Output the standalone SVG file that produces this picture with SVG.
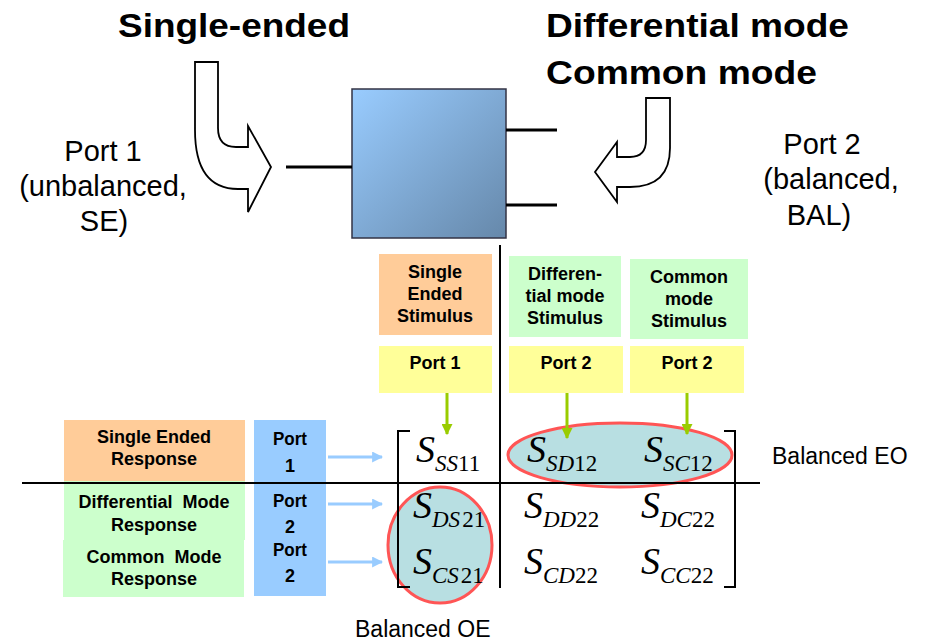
<svg xmlns="http://www.w3.org/2000/svg" width="945" height="644" viewBox="0 0 945 644">
<defs>
<linearGradient id="boxg" x1="0" y1="0" x2="1" y2="1">
<stop offset="0" stop-color="#99ccff"/>
<stop offset="1" stop-color="#6688aa"/>
</linearGradient>
<marker id="ga" viewBox="0 0 10 10" refX="9" refY="5" markerWidth="11" markerHeight="11" markerUnits="userSpaceOnUse" orient="auto"><path d="M0,0 L10,5 L0,10 Z" fill="#99cc00"/></marker>
<marker id="ba" viewBox="0 0 10 10" refX="9" refY="5" markerWidth="11" markerHeight="11" markerUnits="userSpaceOnUse" orient="auto"><path d="M0,0 L10,5 L0,10 Z" fill="#99ccff"/></marker>
</defs>
<style>
.t{font-family:"Liberation Sans",Arial,sans-serif;fill:#000}
.h{font-size:34px;font-weight:bold}
.p{font-size:29px}
.b{font-size:18px;font-weight:bold;text-anchor:middle}
.m{font-family:"Liberation Serif","Times New Roman",serif;fill:#000}
.S{font-size:38px;font-style:italic}
.sub{font-size:23px}
.i{font-style:italic}
.ln{stroke:#000;stroke-width:3;fill:none}
.thin{stroke:#000;stroke-width:2;fill:none}
.ell{fill:#b8dfe2;stroke:#ff5555;stroke-width:3}
.ga{stroke:#99cc00;stroke-width:3;marker-end:url(#ga)}
.ba{stroke:#99ccff;stroke-width:3;marker-end:url(#ba)}
</style>
<rect width="945" height="644" fill="#fff"/>
<g id="titles">
<text class="t h" x="118" y="37" textLength="232" lengthAdjust="spacingAndGlyphs">Single-ended</text>
<text class="t h" x="546" y="37" textLength="303" lengthAdjust="spacingAndGlyphs">Differential mode</text>
<text class="t h" x="546" y="84" textLength="271" lengthAdjust="spacingAndGlyphs">Common mode</text>
</g>
<g id="port1-label">
<text class="t p" x="103" y="161" text-anchor="middle">Port 1</text>
<text class="t p" x="103" y="196" text-anchor="middle">(unbalanced,</text>
<text class="t p" x="104" y="231" text-anchor="middle">SE)</text>
</g>
<g id="port2-label">
<text class="t p" x="822" y="154" text-anchor="middle">Port 2</text>
<text class="t p" x="831" y="189" text-anchor="middle">(balanced,</text>
<text class="t p" x="819" y="225" text-anchor="middle">BAL)</text>
</g>
<g id="device">
<rect x="352" y="89" width="154" height="149" fill="url(#boxg)" stroke="#334" stroke-width="1.5"/>
</g>
<g id="stim-se">
<rect x="379" y="254" width="113" height="81" fill="#ffcc99"/>
<text class="t b" x="435" y="278">Single</text>
<text class="t b" x="435" y="300">Ended</text>
<text class="t b" x="435" y="322">Stimulus</text>
</g>
<g id="stim-dm">
<rect x="509" y="256" width="112" height="81" fill="#ccffcc"/>
<text class="t b" x="565" y="280">Differen-</text>
<text class="t b" x="565" y="302">tial mode</text>
<text class="t b" x="565" y="324">Stimulus</text>
</g>
<g id="stim-cm">
<rect x="630" y="259" width="118" height="80" fill="#ccffcc"/>
<text class="t b" x="689" y="283">Common</text>
<text class="t b" x="689" y="305">mode</text>
<text class="t b" x="689" y="327">Stimulus</text>
</g>
<g id="port-in-1">
<rect x="379" y="346" width="113" height="47" fill="#ffff99"/>
<text class="t b" x="435" y="369">Port 1</text>
</g>
<g id="port-in-2a">
<rect x="509" y="346" width="114" height="47" fill="#ffff99"/>
<text class="t b" x="566" y="369">Port 2</text>
</g>
<g id="port-in-2b">
<rect x="630" y="346" width="114" height="47" fill="#ffff99"/>
<text class="t b" x="687" y="369">Port 2</text>
</g>
<g id="resp-se">
<rect x="64" y="420" width="181" height="61" fill="#ffcc99"/>
<text class="t b" x="154" y="443">Single Ended</text>
<text class="t b" x="154" y="465">Response</text>
</g>
<g id="resp-dm">
<rect x="64" y="481" width="181" height="59" fill="#ccffcc"/>
<text class="t b" x="154" y="508" xml:space="preserve">Differential  Mode</text>
<text class="t b" x="154" y="531">Response</text>
</g>
<g id="resp-cm">
<rect x="63" y="540" width="181" height="57" fill="#ccffcc"/>
<text class="t b" x="154" y="563" xml:space="preserve">Common  Mode</text>
<text class="t b" x="154" y="585">Response</text>
</g>
<g id="port-out">
<rect x="254" y="420" width="72" height="176" fill="#99ccff"/>
<text class="t b" x="290" y="445" font-size="19" textLength="34" lengthAdjust="spacingAndGlyphs">Port</text>
<text class="t b" x="290" y="472" font-size="19">1</text>
<text class="t b" x="290" y="507" font-size="19" textLength="34" lengthAdjust="spacingAndGlyphs">Port</text>
<text class="t b" x="290" y="533" font-size="19">2</text>
<text class="t b" x="290" y="556" font-size="19" textLength="34" lengthAdjust="spacingAndGlyphs">Port</text>
<text class="t b" x="290" y="582" font-size="19">2</text>
</g>
<g id="ellipses">
<ellipse class="ell" cx="620" cy="455" rx="112" ry="32"/>
<ellipse class="ell" cx="440" cy="545" rx="52" ry="58"/>
</g>
<g id="connectors">
<line class="ln" x1="286" y1="167" x2="352" y2="167"/>
<line class="ln" x1="506" y1="130" x2="557" y2="130"/>
<line class="ln" x1="506" y1="205" x2="557" y2="205"/>
<path d="M195,62 L218,62 L218,128 Q218,147 236,147 L248,147 L248,126 L271,167 L248,212 L248,189 L238,189 Q195,189 195,130 Z" fill="#fff" stroke="#000" stroke-width="1.8"/>
<path d="M646,98 L670,98 L670,148 Q670,187 630,187 L617,187 L617,202 L595,172 L617,142 L617,157 L630,157 Q646,157 646,140 Z" fill="#fff" stroke="#000" stroke-width="1.8"/>
<line class="ga" x1="447" y1="393" x2="447" y2="434"/>
<line class="ga" x1="567" y1="393" x2="567" y2="438"/>
<line class="ga" x1="687" y1="393" x2="687" y2="434"/>
<line class="ba" x1="328" y1="457" x2="382" y2="457"/>
<line class="ba" x1="328" y1="504" x2="382" y2="504"/>
<line class="ba" x1="328" y1="562" x2="382" y2="562"/>
</g>
<g id="axes">
<line class="thin" x1="500" y1="245" x2="500" y2="588"/>
<line class="thin" x1="22" y1="483" x2="760" y2="483"/>
<path class="thin" d="M410,431 L398,431 L398,587 L410,587"/>
<path class="thin" d="M724,431 L735,431 L735,587 L724,587"/>
</g>
<g id="matrix">
<text class="m" x="416" y="462"><tspan class="S">S</tspan><tspan class="sub" dy="9"><tspan class="i">SS</tspan>11</tspan></text>
<text class="m" x="527" y="462"><tspan class="S">S</tspan><tspan class="sub" dy="9"><tspan class="i">SD</tspan>12</tspan></text>
<text class="m" x="644" y="462"><tspan class="S">S</tspan><tspan class="sub" dy="9"><tspan class="i">SC</tspan>12</tspan></text>
<text class="m" x="413" y="518"><tspan class="S">S</tspan><tspan class="sub" dy="9"><tspan class="i">DS</tspan><tspan dx="2">21</tspan></tspan></text>
<text class="m" x="524" y="518"><tspan class="S">S</tspan><tspan class="sub" dy="9"><tspan class="i">DD</tspan>22</tspan></text>
<text class="m" x="641" y="518"><tspan class="S">S</tspan><tspan class="sub" dy="9"><tspan class="i">DC</tspan>22</tspan></text>
<text class="m" x="413" y="574"><tspan class="S">S</tspan><tspan class="sub" dy="9"><tspan class="i">CS</tspan><tspan dx="2">21</tspan></tspan></text>
<text class="m" x="524" y="574"><tspan class="S">S</tspan><tspan class="sub" dy="9"><tspan class="i">CD</tspan>22</tspan></text>
<text class="m" x="641" y="574"><tspan class="S">S</tspan><tspan class="sub" dy="9"><tspan class="i">CC</tspan>22</tspan></text>
</g>
<g id="labels">
<text class="t" x="772" y="464" font-size="23">Balanced EO</text>
<text class="t" x="355" y="637" font-size="23">Balanced OE</text>
</g>
</svg>
